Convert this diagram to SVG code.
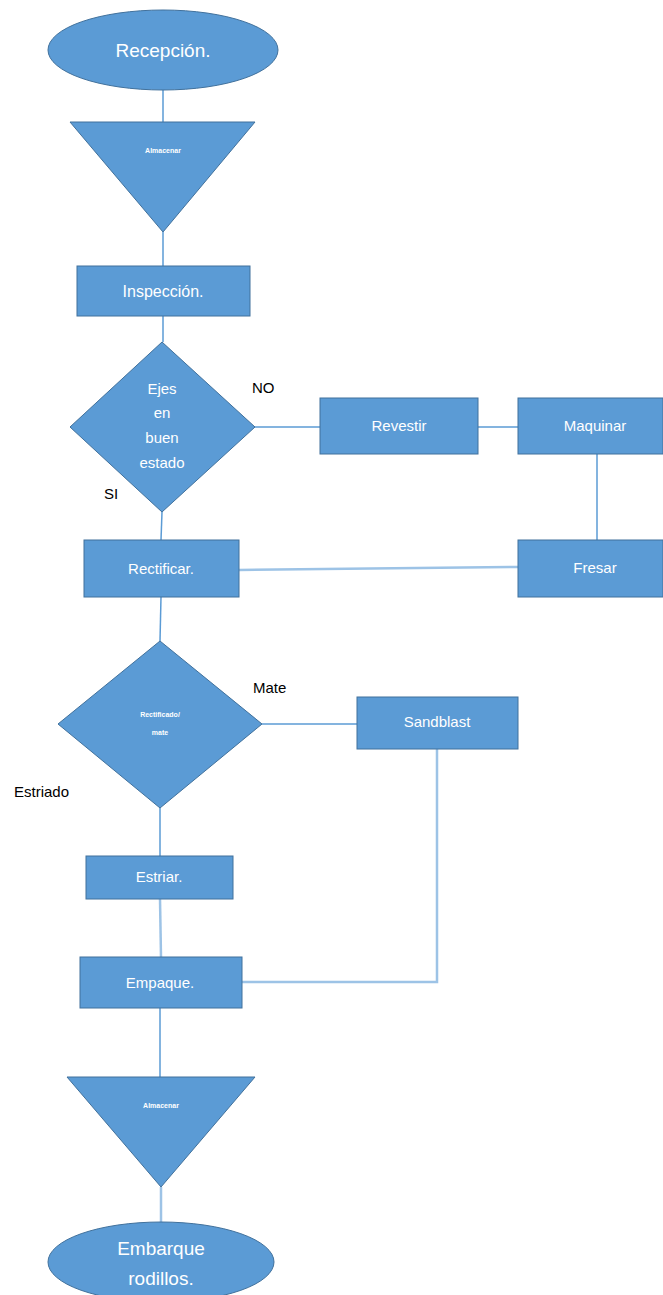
<svg xmlns="http://www.w3.org/2000/svg" width="663" height="1295" viewBox="0 0 663 1295">
<style>
.n{fill:#5B9BD5;stroke:#41719C;stroke-width:1}
.t{fill:#fff;font-family:"Liberation Sans",Arial,sans-serif;text-anchor:middle}
.l{fill:#000;font-family:"Liberation Sans",Arial,sans-serif;font-size:15px}
.c{fill:none;stroke:#5B9BD5;stroke-width:1.5}
.c2{fill:none;stroke:#9DC3E6;stroke-width:2.5}
</style>
<rect width="663" height="1295" fill="#fff"/>
<g id="connectors">
<line class="c" x1="163" y1="90" x2="163" y2="122"/>
<line class="c" x1="163" y1="232" x2="163" y2="266"/>
<line class="c" x1="163" y1="316" x2="163" y2="342"/>
<line class="c" x1="255" y1="427" x2="320" y2="427"/>
<line class="c" x1="478" y1="427" x2="518" y2="427"/>
<line class="c" x1="597" y1="454" x2="597" y2="540"/>
<line class="c2" x1="518" y1="567" x2="239" y2="570"/>
<line class="c" x1="162" y1="512" x2="161" y2="540"/>
<line class="c" x1="161" y1="597" x2="160" y2="641"/>
<line class="c" x1="262" y1="724" x2="357" y2="724"/>
<line class="c" x1="160" y1="808" x2="160" y2="856"/>
<line class="c2" x1="160" y1="899" x2="161" y2="957"/>
<polyline class="c2" points="437,749 437,982 242,982"/>
<line class="c" x1="160" y1="1008" x2="160" y2="1077"/>
<line class="c2" x1="161" y1="1187" x2="161" y2="1222"/>
</g>
<g id="recepcion">
<ellipse class="n" cx="163" cy="50" rx="115" ry="40"/>
<text class="t" x="163" y="57" font-size="19">Recepción.</text>
</g>
<g id="almacenar1">
<polygon class="n" points="70,122 255,122 163,232"/>
<text class="t" x="163" y="153" font-size="7" font-weight="bold">Almacenar</text>
</g>
<g id="inspeccion">
<rect class="n" x="77" y="266" width="173" height="50"/>
<text class="t" x="163" y="297" font-size="16">Inspección.</text>
</g>
<g id="ejes">
<polygon class="n" points="162,342 255,427 162,512 70,427"/>
<text class="t" x="162" y="394" font-size="15">Ejes</text>
<text class="t" x="162" y="418" font-size="15">en</text>
<text class="t" x="162" y="443" font-size="15">buen</text>
<text class="t" x="162" y="468" font-size="15">estado</text>
</g>
<g id="revestir">
<rect class="n" x="320" y="398" width="158" height="56"/>
<text class="t" x="399" y="431" font-size="15">Revestir</text>
</g>
<g id="maquinar">
<rect class="n" x="518" y="398" width="145" height="56"/>
<text class="t" x="595" y="431" font-size="15">Maquinar</text>
</g>
<g id="fresar">
<rect class="n" x="518" y="540" width="145" height="57"/>
<text class="t" x="595" y="573" font-size="15">Fresar</text>
</g>
<g id="rectificar">
<rect class="n" x="84" y="540" width="155" height="57"/>
<text class="t" x="161" y="574" font-size="15">Rectificar.</text>
</g>
<g id="rectificado">
<polygon class="n" points="160,641 262,724 160,808 58,724"/>
<text class="t" x="160" y="717" font-size="7" font-weight="bold">Rectificado/</text>
<text class="t" x="160" y="735" font-size="7" font-weight="bold">mate</text>
</g>
<g id="sandblast">
<rect class="n" x="357" y="697" width="161" height="52"/>
<text class="t" x="437" y="727" font-size="15">Sandblast</text>
</g>
<g id="estriar">
<rect class="n" x="86" y="856" width="147" height="43"/>
<text class="t" x="159" y="882" font-size="15">Estriar.</text>
</g>
<g id="empaque">
<rect class="n" x="80" y="957" width="162" height="51"/>
<text class="t" x="160" y="988" font-size="15">Empaque.</text>
</g>
<g id="almacenar2">
<polygon class="n" points="67,1077 255,1077 161,1187"/>
<text class="t" x="161" y="1108" font-size="7" font-weight="bold">Almacenar</text>
</g>
<g id="embarque">
<ellipse class="n" cx="161" cy="1262" rx="113" ry="40"/>
<text class="t" x="161" y="1255" font-size="19">Embarque</text>
<text class="t" x="161" y="1285" font-size="19">rodillos.</text>
</g>
<g id="labels">
<text class="l" x="252" y="393">NO</text>
<text class="l" x="104" y="499">SI</text>
<text class="l" x="253" y="693">Mate</text>
<text class="l" x="14" y="797">Estriado</text>
</g>
</svg>
